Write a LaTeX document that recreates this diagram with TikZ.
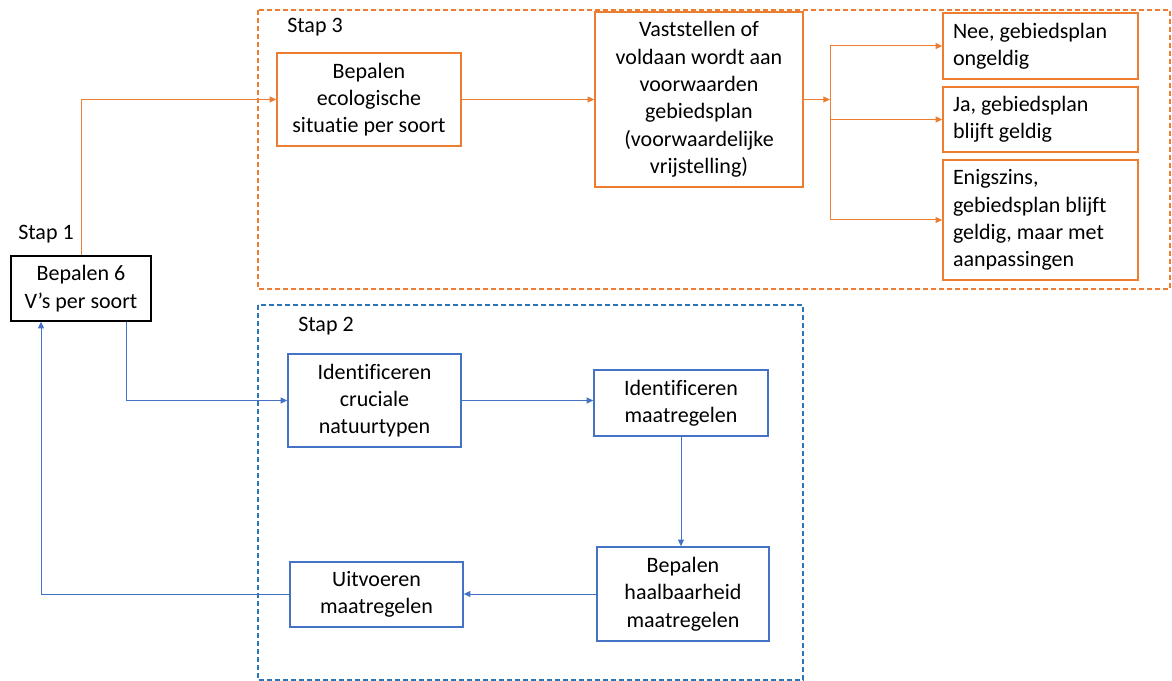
\documentclass[tikz,border=0pt]{standalone}
\usepackage{fontspec}
\setmainfont{Carlito}[Ligatures=NoCommon]
\usetikzlibrary{arrows.meta, calc, positioning}

\definecolor{stoporange}{HTML}{ED7D31}
\definecolor{stopblue}{HTML}{4472C4}
\definecolor{dashblue}{HTML}{2E75B6}

\tikzset{
    box/.style={draw, line width=1.1pt, align=center, inner sep=0pt,
        font=\fontsize{16.5}{20.5}\selectfont},
    obox/.style={box, draw=stoporange},
    bbox/.style={box, draw=stopblue},
    lbox/.style={obox, align=flush left, text width=131.25pt, inner xsep=7.5pt},
    stap/.style={anchor=west, inner sep=0pt, font=\fontsize{16.5}{20.5}\selectfont},
    oline/.style={draw=stoporange, line width=0.75pt},
    bline/.style={draw=stopblue, line width=0.75pt}
}

\begin{document}
\begin{tikzpicture}[x=0.75pt, y=-0.75pt, >={Triangle[length=5pt, width=4.5pt]}]
                        \useasboundingbox (0, 0) rectangle (1172, 681);

                        % dashed frames
                        \draw[stoporange, line width=1.1pt, dash pattern=on 3.75pt off 2.25pt]
                            (258, 10) rectangle (1170, 289);
                        \draw[dashblue, line width=1.1pt, dash pattern=on 3.75pt off 2.25pt]
                            (258, 305) rectangle (803, 680);

                        \node[stap] (s1) at (18, 234) {Stap 1};
                        \node[stap] (s3) at (287, 27) {Stap 3};
                        \node[stap] (s2) at (298, 326) {Stap 2};

                        \node[box, minimum width=105pt, minimum height=48.75pt] (v) at (81, 288.5) {Bepalen 6\\V’s per soort};

                        \node[obox, minimum width=138pt, minimum height=69.75pt] (eco) at (369, 99.5) {Bepalen\\ecologische\\situatie per soort};
                        \node[obox, minimum width=156pt, minimum height=131.25pt] (vast) at (699, 99.5) {Vaststellen of\\voldaan wordt aan\\voorwaarden\\gebiedsplan\\(voorwaardelijke\\vrijstelling)};
                        \node[lbox, minimum height=49.5pt] (nee) at (1040.5, 46) {Nee, gebiedsplan\\ongeldig};
                        \node[lbox, minimum height=48.75pt] (ja) at (1040.5, 119.5) {Ja, gebiedsplan\\blijft geldig};
                        \node[lbox, minimum height=90pt] (enig) at (1040.5, 220) {Enigszins,\\gebiedsplan blijft\\geldig, maar met\\aanpassingen};
                        \coordinate (split) at (830, 99.5);

                        \node[bbox, minimum width=129.75pt, minimum height=69.75pt] (cruc) at (374.5, 400.5) {Identificeren\\cruciale\\natuurtypen};
                        \node[bbox, minimum width=130.5pt, minimum height=49.5pt] (idm) at (681, 403) {Identificeren\\maatregelen};
                        \node[bbox, minimum width=129pt, minimum height=70.5pt] (haal) at (683, 594) {Bepalen\\haalbaarheid\\maatregelen};
                        \node[bbox, minimum width=129.75pt, minimum height=48.75pt] (uitv) at (376.5, 594.5) {Uitvoeren\\maatregelen};

                        \draw[oline, ->] (v.north) |- (eco.west);
                        \draw[oline, ->] (eco) -- (vast);
                        \draw[oline, ->] (vast.east) -- (split);
                        \draw[oline, ->] (split) |- (nee.west);
                        \draw[oline, ->] (split) |- (ja.west);
                        \draw[oline, ->] (split) |- (enig.west);

                        \draw[bline, ->] ([xshift=33.75pt]v.south) |- (cruc.west);
                        \draw[bline, ->] (cruc.east) -- (cruc.east -| idm.west);
                        \draw[bline, ->] (idm.south) -- (idm.south |- haal.north);
                        \draw[bline, ->] (haal.west) -- (haal.west -| uitv.east);
                        \draw[bline, ->] (uitv.west) -| ([xshift=-30pt]v.south);
                    \end{tikzpicture}
\end{document}
